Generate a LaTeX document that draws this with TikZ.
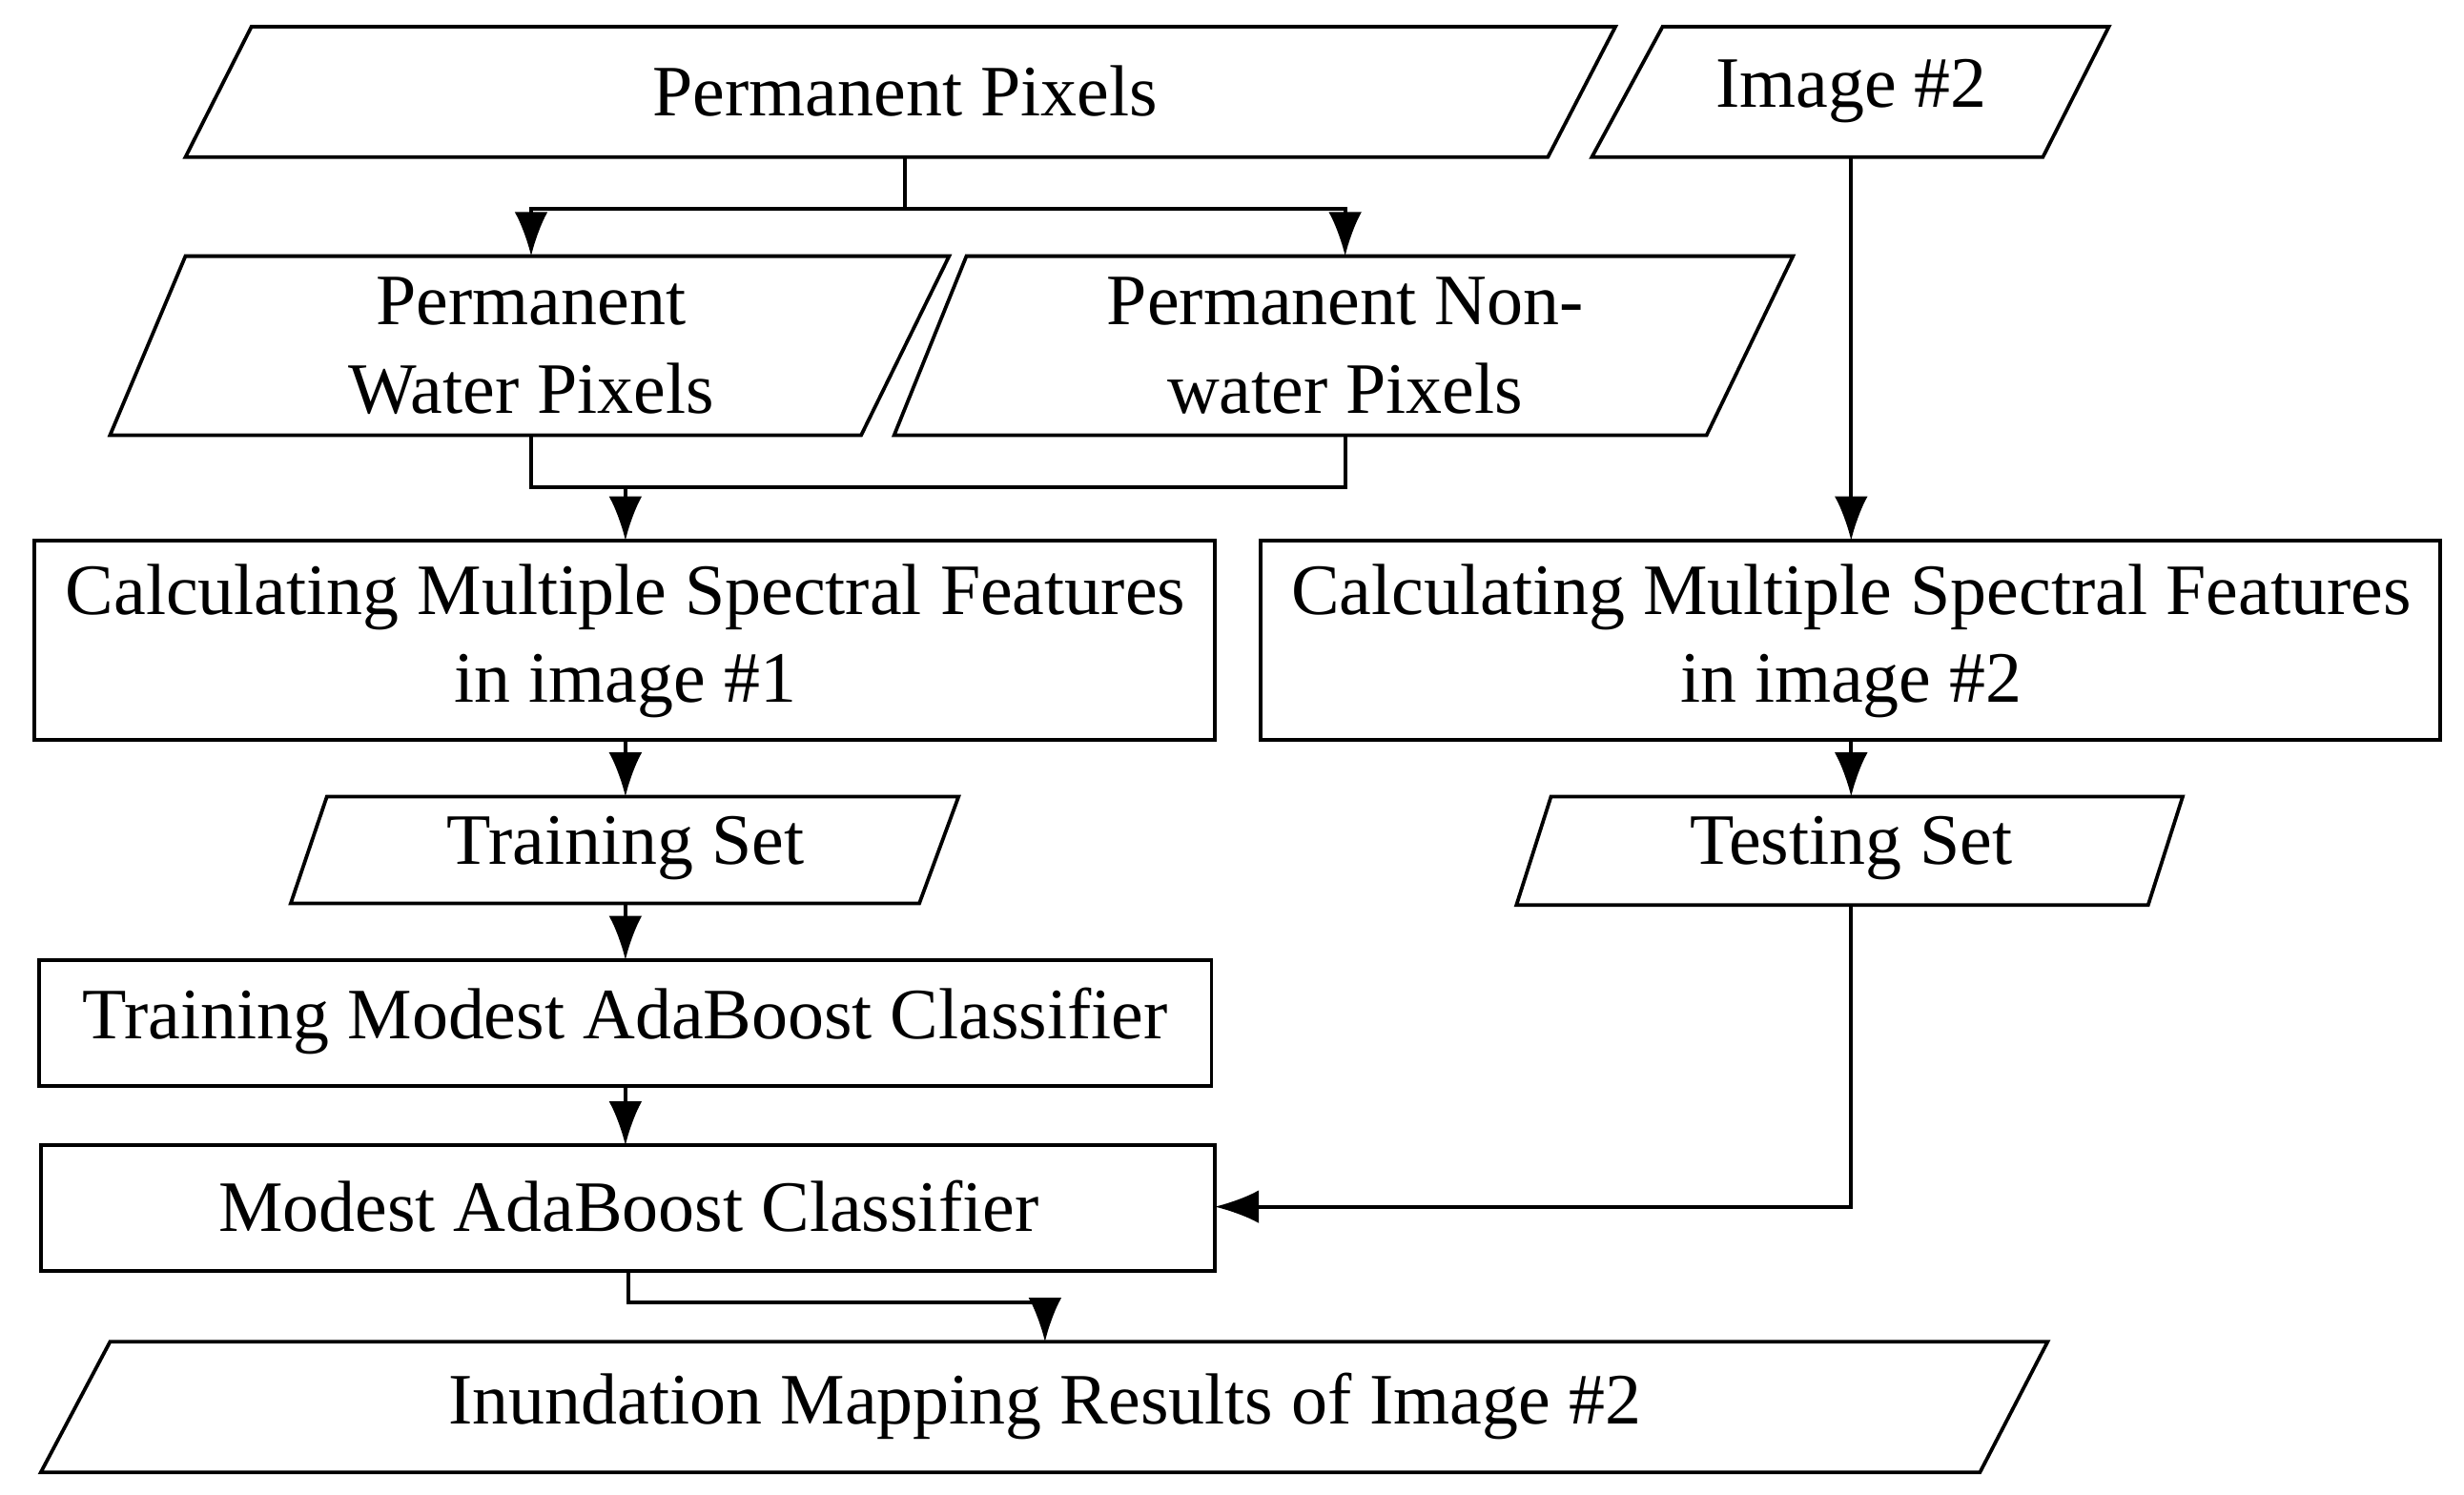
\documentclass[tikz,border=0pt]{standalone}
\usepackage{fontspec}
\setmainfont{Liberation Serif}
\usetikzlibrary{arrows.meta}
\begin{document}
\begin{tikzpicture}[x=0.01cm,y=-0.01cm,
  box/.style={draw,line width=0.65pt},
  txt/.style={font=\fontsize{13.1}{16}\selectfont,align=center,inner sep=0pt},
  arr/.style={line width=0.65pt,-{Latex[length=8pt,width=6pt]}},
  ln/.style={line width=0.65pt}]
\useasboundingbox (0,0) rectangle (1568,951);
% shapes
\draw[box] (160,17)--(1028,17)--(985,100)--(118,100)--cycle;
\node[txt] (pp) at (576,58) {Permanent Pixels};
\draw[box] (1058,17)--(1342,17)--(1300,100)--(1013,100)--cycle;
\node[txt] (im2) at (1178,58) {Image \#2};
\draw[box] (118,163)--(604,163)--(548,277)--(70,277)--cycle;
\node[txt] (pw) at (338,220) {Permanent\\Water Pixels};
\draw[box] (615,163)--(1141,163)--(1086,277)--(569,277)--cycle;
\node[txt] (pn) at (856,220) {Permanent Non-\\water Pixels};
\draw[box] (22,344) rectangle (773,471);
\node[txt] (c1) at (398,408) {Calculating Multiple Spectral Features\\in image \#1};
\draw[box] (802,344) rectangle (1553,471);
\node[txt] (c2) at (1178,408) {Calculating Multiple Spectral Features\\in image \#2};
\draw[box] (208,507)--(610,507)--(585,575)--(185,575)--cycle;
\node[txt] (tr) at (398,540) {Training Set};
\draw[box] (987,507)--(1389,507)--(1367,576)--(965,576)--cycle;
\node[txt] (te) at (1178,540) {Testing Set};
\draw[box] (25,611) rectangle (771,691);
\node[txt] (tm) at (398,650) {Training Modest AdaBoost Classifier};
\draw[box] (26,729) rectangle (773,809);
\node[txt] (mc) at (400,768) {Modest AdaBoost Classifier};
\draw[box] (70,854)--(1303,854)--(1260,937)--(26,937)--cycle;
\node[txt] (ir) at (665,895) {Inundation Mapping Results of Image \#2};
% anchor coordinates
\coordinate (ppb) at (576,100);
\coordinate (pwt) at (338,163); \coordinate (pnt) at (856,163);
\coordinate (pwb) at (338,277); \coordinate (pnb) at (856,277);
\coordinate (c1t) at (398,344); \coordinate (c1b) at (398,471);
\coordinate (im2b) at (1178,100);
\coordinate (c2t) at (1178,344); \coordinate (c2b) at (1178,471);
\coordinate (trt) at (398,507); \coordinate (trb) at (398,575);
\coordinate (tet) at (1178,507); \coordinate (teb) at (1178,576);
\coordinate (tmt) at (398,611); \coordinate (tmb) at (398,691);
\coordinate (mct) at (398,729); \coordinate (mcb) at (400,809);
\coordinate (mcr) at (773,768);
\coordinate (irt) at (665,854);
% connectors
\draw[ln] (ppb)--(576,133);
\draw[arr] (576,133)-|(pwt);
\draw[arr] (576,133)-|(pnt);
\draw[ln] (pwb)--(338,310)--(856,310)--(pnb);
\draw[arr] (398,310)--(c1t);
\draw[arr] (im2b)--(c2t);
\draw[arr] (c1b)--(trt);
\draw[arr] (c2b)--(tet);
\draw[arr] (trb)--(tmt);
\draw[arr] (tmb)--(mct);
\draw[arr] (teb)|-(mcr);
\draw[arr] (mcb)--(400,829)-|(irt);
\end{tikzpicture}
\end{document}
